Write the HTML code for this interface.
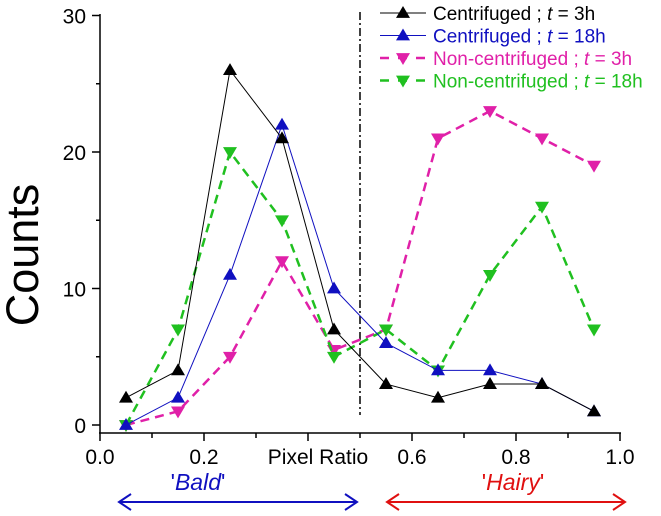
<!DOCTYPE html>
<html><head><meta charset="utf-8"><style>
body{margin:0;background:#fff;width:661px;height:511px;overflow:hidden}
text{font-family:"Liberation Sans",Arial,sans-serif}
</style></head><body>
<svg id="chart" width="661" height="511" xmlns="http://www.w3.org/2000/svg"></svg>
<script>
const xCats=[0.05,0.15,0.25,0.35,0.45,0.55,0.65,0.75,0.85,0.95];
const cent3=[2,4,26,21,7,3,2,3,3,1];
const cent18=[0,2,11,22,10,6,4,4,3,1];
const non3=[0,1,5,12,5.5,7,21,23,21,19];
const non18=[0,7,20,15,5,7,4,11,16,7];
const xTicks=["0.0","0.2","","0.6","0.8","1.0"];
const yTicks=[0,10,20,30];
const NS="http://www.w3.org/2000/svg";
const svg=document.getElementById('chart');
const X=v=>100+v*520, Y=v=>425-v*13.65;
function mk(t,a,p){const e=document.createElementNS(NS,t);for(const k in a)e.setAttribute(k,a[k]);(p||svg).appendChild(e);return e;}
let ax=mk('g',{});


mk('line',{x1:100,y1:14,x2:100,y2:433,stroke:'#000','stroke-width':1.5},ax);
mk('line',{x1:99,y1:433,x2:621,y2:433,stroke:'#000','stroke-width':1.5},ax);
yTicks.forEach(v=>{mk('line',{x1:92,y1:Y(v),x2:100,y2:Y(v),stroke:'#000','stroke-width':1.5},ax);
 if(v<30)mk('line',{x1:96,y1:Y(v+5),x2:100,y2:Y(v+5),stroke:'#000','stroke-width':1.5},ax);
 const t=mk('text',{x:86,y:Y(v)+8,'text-anchor':'end','font-size':21},ax);t.textContent=v;});
for(let i=0;i<=10;i++){const x=X(i/10);mk('line',{x1:x,y1:433,x2:x,y2:i%2?438:441,stroke:'#000','stroke-width':1.5},ax);}
xTicks.forEach((s,i)=>{if(!s)return;const t=mk('text',{x:X(i*0.2),y:464,'text-anchor':'middle','font-size':21},ax);t.textContent=s;});
let xl=mk('text',{x:318,y:464,'text-anchor':'middle','font-size':21});xl.textContent='Pixel Ratio';

let yl=mk('text',{x:0,y:0,'text-anchor':'middle','font-size':45,transform:'translate(38,255) rotate(-90)'});yl.textContent='Counts';

let dv=mk('line',{x1:X(0.5),y1:12,x2:X(0.5),y2:415,stroke:'#000','stroke-width':1.5,'stroke-dasharray':'8,3,2,3'});

function tri(g,x,y,up,c){const s=7;const pts=up?`${x},${y-s} ${x-s},${y+s*0.7} ${x+s},${y+s*0.7}`:`${x},${y+s} ${x-s},${y-s*0.7} ${x+s},${y-s*0.7}`;mk('polygon',{points:pts,fill:c},g);}
const series=[[non3,'#e020a8',true,false,'series-non-centrifuged-3h'],[non18,'#20c020',true,false,'series-non-centrifuged-18h'],[cent18,'#1010c0',false,true,'series-centrifuged-18h'],[cent3,'#000',false,true,'series-centrifuged-3h']];
series.forEach(([d,c,dash,up,name])=>{const g=mk('g',{});

mk('polyline',{points:d.map((v,i)=>X(xCats[i])+','+Y(v)).join(' '),fill:'none',stroke:c,'stroke-width':dash?2.5:1,'stroke-dasharray':dash?'9,6':'none'},g);
d.forEach((v,i)=>tri(g,X(xCats[i]),Y(v),up,c));});
const leg=[['Centrifuged ; ','t',' = 3h','#000',false,true],['Centrifuged ; ','t',' = 18h','#1010c0',false,true],['Non-centrifuged ; ','t',' = 3h','#e020a8',true,false],['Non-centrifuged ; ','t',' = 18h','#20c020',true,false]];
leg.forEach((l,i)=>{const g=mk('g',{});
const y=13+i*22.5;
mk('line',{x1:380,y1:y,x2:426,y2:y,stroke:l[3],'stroke-width':l[4]?2.5:1,'stroke-dasharray':l[4]?'9,9':'none'},g);
tri(g,403,y,l[5],l[3]);
const t=mk('text',{x:433,y:y+7,'font-size':19,fill:l[3]},g);
t.innerHTML=l[0]+'<tspan font-style="italic">'+l[1]+'</tspan>'+l[2];});
function arrow(x1,x2,y,c,label,lx,nm){const g=mk('g',{});
mk('line',{x1:x1,y1:y,x2:x2,y2:y,stroke:c,'stroke-width':2},g);
mk('polyline',{points:`${x1+12},${y-8} ${x1},${y} ${x1+12},${y+8}`,fill:'none',stroke:c,'stroke-width':2},g);
mk('polyline',{points:`${x2-12},${y-8} ${x2},${y} ${x2-12},${y+8}`,fill:'none',stroke:c,'stroke-width':2},g);
const t=mk('text',{x:lx,y:490,'text-anchor':'middle','font-size':23,fill:c},g);t.innerHTML="'<tspan font-style='italic'>"+label+"</tspan>'";}
arrow(119,357,502,'#1010c0','Bald',198,'bald-arrow');
arrow(387,625,502,'#e01010','Hairy',513,'hairy-arrow');
</script>
</body></html>
